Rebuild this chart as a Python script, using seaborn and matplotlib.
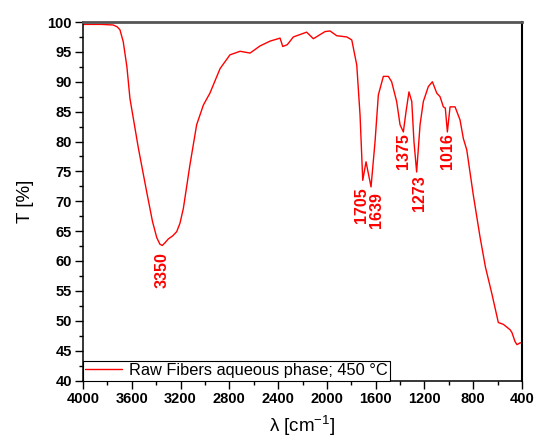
import numpy as np
import pandas as pd
import matplotlib
matplotlib.use("Agg")
import matplotlib.pyplot as plt
import seaborn as sns
from matplotlib.ticker import MultipleLocator

# ---- data ----
wavenumber = [4000, 3850, 3752, 3720, 3697, 3670, 3640, 3615, 3546, 3478, 3430, 3395, 3369,
              3350, 3330, 3300, 3265, 3232, 3205, 3177, 3123, 3068, 3013, 2959, 2876,
              2795, 2712, 2630, 2548, 2466, 2384, 2362, 2325, 2275, 2166, 2111, 2015,
              1974, 1919, 1837, 1796, 1755, 1728, 1706, 1679, 1638, 1605,
              1578, 1537, 1496, 1469, 1428, 1400, 1373, 1351, 1327, 1304, 1286, 1264,
              1236, 1209, 1168, 1135, 1099, 1072, 1045, 1029, 1012, 990, 949, 908, 881,
              853, 799, 744, 700, 648, 594, 553, 498, 482, 457, 441, 416, 400]
transmittance = [99.6, 99.6, 99.5, 99.2, 98.7, 96.7, 92.5, 87.2, 78.9, 71.6, 66.6, 63.9, 62.8,
                 62.6, 63.0, 63.7, 64.2, 64.9, 66.3, 68.8, 76.1, 82.8, 86.1, 88.1, 92.2,
                 94.5, 95.1, 94.8, 96.0, 96.8, 97.3, 95.9, 96.2, 97.5, 98.3, 97.2, 98.4,
                 98.5, 97.7, 97.5, 97.0, 92.8, 84.4, 73.5, 76.6, 72.4, 80.0,
                 87.8, 90.9, 90.9, 90.0, 86.7, 82.8, 81.6, 85.0, 88.3, 86.7, 80.0, 74.9,
                 82.8, 86.7, 89.2, 90.0, 88.1, 87.5, 85.8, 85.6, 81.6, 85.8, 85.8, 83.6,
                 80.5, 78.6, 71.0, 64.0, 59.0, 54.6, 49.7, 49.4, 48.5, 48.0, 46.5, 46.0,
                 46.3, 46.3]
peak_labels = ["3350", "1705", "1639", "1375", "1273", "1016"]
series_name = "Raw Fibers aqueous phase; 450 °C"

df = pd.DataFrame({"w": wavenumber, "T": transmittance, "series": series_name})

sns.set_style("ticks")
plt.rcParams["font.family"] = ["Liberation Sans", "DejaVu Sans"]
plt.rcParams["mathtext.default"] = "regular"

fig = plt.figure(figsize=(5.35, 4.37), dpi=100)
ax = fig.add_axes([83 / 535, 1 - 380.5 / 437, (522 - 83) / 535, (380.5 - 22) / 437])

sns.lineplot(data=df, x="w", y="T", hue="series", palette=["#ff0000"], sort=False,
             estimator=None, linewidth=1.0, ax=ax)

ax.set_xlim(4000, 400)
ax.set_ylim(40, 100)
ax.xaxis.set_major_locator(MultipleLocator(400))
ax.xaxis.set_minor_locator(MultipleLocator(200))
ax.yaxis.set_major_locator(MultipleLocator(5))
ax.yaxis.set_minor_locator(MultipleLocator(2.5))
ax.tick_params(which="major", direction="out", length=5.5, width=1.0, pad=2.5,
               labelsize=10.5, top=False, right=False, colors="black")
ax.tick_params(which="minor", direction="out", length=2.8, width=1.0, top=False,
               right=False, colors="black")
for lab in ax.get_xticklabels() + ax.get_yticklabels():
    lab.set_fontweight("bold")

for side in ["left", "bottom"]:
    ax.spines[side].set_color("black")
    ax.spines[side].set_linewidth(1.1)
ax.spines["right"].set_color("black")
ax.spines["right"].set_linewidth(1.5)
ax.spines["top"].set_color("#555555")
ax.spines["top"].set_linewidth(2.0)

ax.set_xlabel("λ [cm$^{-1}$]", fontsize=13.5, labelpad=6, color="black")
ax.set_ylabel("T [%]", fontsize=13.5, labelpad=10, color="black")

# peak annotations (offsets in pixels)
offsets = {"3350": (0, 7), "1705": (-1, 7), "1639": (6, 5), "1375": (0, 1),
           "1273": (4, 3), "1016": (1, 1)}
w_arr = np.array(wavenumber, dtype=float)
t_arr = np.array(transmittance, dtype=float)
for lab in peak_labels:
    v = float(lab)
    near = np.abs(w_arr - v) <= 40
    ymin = t_arr[near].min()
    dx, dy = offsets[lab]
    ax.annotate(lab, xy=(v, ymin), xytext=(dx * 72 / 100, -dy * 72 / 100),
                textcoords="offset points", rotation=90, ha="center", va="top",
                color="#ff0000", fontsize=11.5, fontweight="bold")

leg = ax.legend(loc="lower left", bbox_to_anchor=(0, 0), borderaxespad=0,
                fancybox=False, edgecolor="black", framealpha=1, fontsize=11.8,
                handlelength=2.25, handletextpad=0.4, borderpad=0.15)
leg.get_frame().set_linewidth(0.8)
leg.set_title(None)
for t in leg.get_texts():
    t.set_color("black")

fig.savefig("out.png", dpi=100)
